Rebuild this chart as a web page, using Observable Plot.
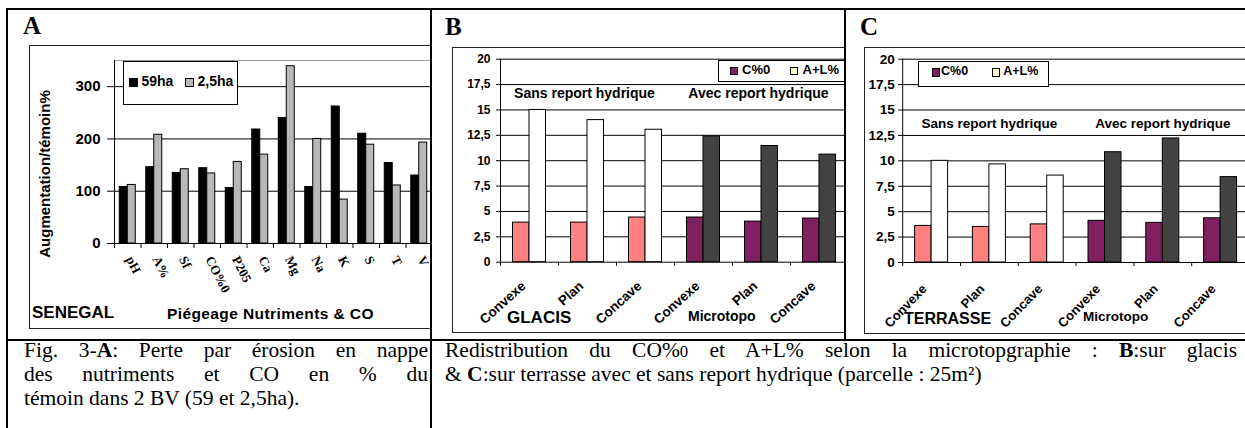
<!DOCTYPE html>
<html>
<head>
<meta charset="utf-8">
<script src="https://cdn.jsdelivr.net/npm/d3@7"></script>
<script src="https://cdn.jsdelivr.net/npm/@observablehq/plot@0.6"></script>
<style>
  html, body { margin: 0; padding: 0; background: #fff; }
  #root { position: relative; width: 1245px; height: 428px; overflow: hidden; background: #fff; }
</style>
</head>
<body>
<div id="root"></div>
<script>
// ---------------- data ----------------
const nutrients = ["pH", "A%", "Sf", "CO%0", "P205", "Ca", "Mg", "Na", "K", "S", "T", "V"];
const bv59ha   = [108, 146, 135, 144, 106, 218, 240, 108, 262, 210, 154, 130];
const bv2_5ha  = [112, 208, 142, 134, 156, 170, 339, 200, 84, 189, 111, 193];
const seriesA  = ["59ha", "2,5ha"];
const yTicksA  = [0, 100, 200, 300];

const microtopo = ["Convexe", "Plan", "Concave"];
const regimes   = ["Sans report hydrique", "Avec report hydrique"];
const seriesBC  = ["C%0", "A+L%"];
const glacisC_sans    = [3.9, 3.9, 4.4];
const glacisC_avec    = [4.4, 4.0, 4.3];
const glacisAL_sans   = [15.0, 14.0, 13.05];
const glacisAL_avec   = [12.4, 11.45, 10.6];
const terrasseC_sans  = [3.6, 3.5, 3.75];
const terrasseC_avec  = [4.1, 3.9, 4.35];
const terrasseAL_sans = [10.0, 9.65, 8.55];
const terrasseAL_avec = [10.85, 12.2, 8.4];
const yTicksBC      = [0, 2.5, 5, 7.5, 10, 12.5, 15, 17.5, 20];
const yTickLabelsBC = ["0", "2,5", "5", "7,5", "10", "12,5", "15", "17,5", "20"];

// ---------------- helpers ----------------
const SANS = "'Liberation Sans', Arial, sans-serif";
const SERIF = "'Liberation Serif', 'Times New Roman', serif";
const root = document.getElementById("root");

function box(parent, css) {
  const d = document.createElement("div");
  d.style.cssText = "position:absolute;" + css;
  parent.appendChild(d);
  return d;
}
function txt(parent, html, x, base, fs, o = {}) {
  const serif = !!o.serif;
  const top = base - (serif ? 0.8375 : 0.8465) * fs;
  const d = box(parent,
    `left:${x}px;top:${top}px;font-family:${serif ? SERIF : SANS};font-size:${fs}px;line-height:1;` +
    `font-weight:${o.bold === false ? "normal" : "bold"};white-space:nowrap;color:#000;` +
    (o.width ? `width:${o.width}px;white-space:normal;text-align:justify;text-align-last:justify;` : "") +
    (o.ls ? `letter-spacing:${o.ls}px;` : "") + (o.css || ""));
  d.innerHTML = html;
  return d;
}
function wrapper(clip) {
  return box(root, `left:0;top:0;width:1245px;height:428px;clip-path:inset(${clip});`);
}
const plotStyle = {background: "transparent", overflow: "visible", maxWidth: "none", fontFamily: SANS, color: "#000"};

// ---------------- panel A ----------------
const wrapA = wrapper("0px 815px 89px 0px");
box(wrapA, "left:29px;top:45px;width:420px;height:282px;border:1px solid #222;background:#fff;");
{
  const rows = nutrients.map((n, i) => ({cat: n, v59: bv59ha[i], v25: bv2_5ha[i]}));
  const width = 410, ml = 85, mr = 7;
  const plotW = width - ml - mr;
  const step = plotW / nutrients.length;
  const half = step / 2, bw = 8;
  const svg = Plot.plot({
    width, height: 283, marginLeft: ml, marginRight: mr, marginTop: 15, marginBottom: 85,
    x: {domain: nutrients, padding: 0, round: false, axis: null},
    y: {domain: [0, 350], axis: null},
    style: plotStyle,
    marks: [
      Plot.ruleY([350], {y: d => d, stroke: "#9a9a9a"}),
      Plot.ruleY(yTicksA.slice(1), {y: d => d, stroke: "#000"}),
      Plot.barY(rows, {x: "cat", y: "v59", fill: "#000", stroke: "#000", insetLeft: half - bw, insetRight: half}),
      Plot.barY(rows, {x: "cat", y: "v25", fill: "#b8b8b8", stroke: "#000", insetLeft: half, insetRight: half - bw}),
      Plot.ruleY([0], {y: d => d, stroke: "#000"}),
      Plot.ruleX([nutrients[0]], {x: d => d, dx: -half, stroke: "#000"}),
      Plot.ruleX(nutrients, {x: d => d, y1: () => 0, y2: () => 0, insetBottom: -5, dx: -half, stroke: "#000"}),
      Plot.ruleY(yTicksA, {y: d => d, insetLeft: -7, insetRight: plotW, stroke: "#000"}),
      Plot.text(yTicksA, {y: d => d, text: d => String(d), frameAnchor: "left", textAnchor: "end", dx: -14, fontSize: 15, fontWeight: "bold"}),
      Plot.text(rows, {x: "cat", y: () => 0, text: "cat", rotate: 63, textAnchor: "start", lineAnchor: "bottom",
        dx: -2, dy: 15.6, fontFamily: SERIF, fontWeight: "bold", fontSize: 13})
    ]
  });
  svg.style.position = "absolute";
  svg.style.left = "29px";
  svg.style.top = "45px";
  wrapA.appendChild(svg);

  // legend A
  box(wrapA, "left:123px;top:61px;width:113px;height:42px;border:1px solid #000;background:#fff;");
  box(wrapA, "left:129px;top:78px;width:7px;height:7px;border:1px solid #000;background:#000;");
  txt(wrapA, seriesA[0], 141.5, 86, 14);
  box(wrapA, "left:185px;top:78px;width:7px;height:7px;border:1px solid #000;background:#b8b8b8;");
  txt(wrapA, seriesA[1], 197.5, 86, 14);

  // axis title & annotations
  box(wrapA, `left:44.3px;top:173.5px;transform:translate(-50%,-50%) rotate(-90deg);font-family:${SANS};font-size:15px;font-weight:bold;line-height:1;white-space:nowrap;`)
    .textContent = "Augmentation/témoin%";
  txt(wrapA, "SENEGAL", 32, 318.3, 17);
  txt(wrapA, "Piégeage Nutriments &amp; CO", 167, 319, 15.5, {ls: 0.4});
}

// ---------------- panels B & C ----------------
function panelBC(cfg) {
  const rows = [];
  regimes.forEach((reg, ri) => microtopo.forEach((m, mi) => rows.push({
    key: ri + "-" + m, topo: m, regime: reg, ri,
    c: ri === 0 ? cfg.cSans[mi] : cfg.cAvec[mi],
    al: ri === 0 ? cfg.alSans[mi] : cfg.alAvec[mi]
  })));
  const keys = rows.map(d => d.key);
  const plotW = cfg.width - cfg.ml - cfg.mr;
  const step = plotW / keys.length;
  const half = step / 2, bw = 16.5;
  const sans = rows.filter(d => d.ri === 0), avec = rows.filter(d => d.ri === 1);
  const svg = Plot.plot({
    width: cfg.width, height: cfg.height,
    marginLeft: cfg.ml, marginRight: cfg.mr, marginTop: cfg.mt, marginBottom: cfg.mb,
    x: {domain: keys, padding: 0, round: false, axis: null},
    y: {domain: [0, 20], axis: null},
    style: plotStyle,
    marks: [
      Plot.ruleY(yTicksBC.slice(1), {y: d => d, stroke: "#000"}),
      Plot.barY(sans, {x: "key", y: "c", fill: "#ff8080", stroke: "#000", insetLeft: half - bw, insetRight: half}),
      Plot.barY(sans, {x: "key", y: "al", fill: "#ffffff", stroke: "#000", insetLeft: half, insetRight: half - bw}),
      Plot.barY(avec, {x: "key", y: "c", fill: "#80205f", stroke: "#000", insetLeft: half - bw, insetRight: half}),
      Plot.barY(avec, {x: "key", y: "al", fill: "#424242", stroke: "#000", insetLeft: half, insetRight: half - bw}),
      Plot.ruleY([0], {y: d => d, stroke: "#000"}),
      Plot.ruleX([keys[0]], {x: d => d, dx: -half, stroke: "#000"}),
      Plot.ruleX(keys, {x: d => d, y1: () => 0, y2: () => 0, insetBottom: -4, dx: -half, stroke: "#000"}),
      Plot.ruleY(yTicksBC, {y: d => d, insetLeft: -4, insetRight: plotW, stroke: "#000"}),
      Plot.text(yTicksBC, {y: d => d, text: (d, i) => yTickLabelsBC[i], frameAnchor: "left", textAnchor: "end",
        dx: -cfg.labelGap, fontSize: cfg.tickFs, fontWeight: "bold"}),
      Plot.text(rows, {x: "key", y: () => 0, text: "topo", rotate: cfg.rot, textAnchor: "end", lineAnchor: "bottom",
        dx: cfg.ldx, dy: cfg.ldy, fontSize: cfg.catFs, fontWeight: "bold"}),
      Plot.text(regimes, {x: (d, i) => keys[i * 3 + 1], frameAnchor: "top", lineAnchor: "bottom", text: d => d,
        dx: cfg.hdx, dy: cfg.hdy, fontSize: cfg.hFs, fontWeight: "bold"})
    ]
  });
  svg.style.position = "absolute";
  svg.style.left = cfg.left + "px";
  svg.style.top = cfg.top + "px";
  return svg;
}

// panel B
const wrapB = wrapper("0px 401px 88px 432px");
box(wrapB, "left:452px;top:47px;width:420px;height:284px;border:1px solid #222;background:#fff;");
wrapB.appendChild(panelBC({
  left: 452, top: 47, width: 404, height: 285, ml: 48, mr: 8, mt: 11.7, mb: 70.3,
  cSans: glacisC_sans, cAvec: glacisC_avec, alSans: glacisAL_sans, alAvec: glacisAL_avec,
  labelGap: 10, tickFs: 12, rot: -42, ldx: -3, ldy: 25, catFs: 13.5, hdx: -3, hdy: 38.3, hFs: 14
}));
box(wrapB, "left:718px;top:60px;width:160px;height:20px;border:1px solid #000;background:#fff;");
box(wrapB, "left:730px;top:67px;width:6px;height:6px;border:1px solid #000;background:#80205f;");
txt(wrapB, seriesBC[0], 742, 74, 13);
box(wrapB, "left:790px;top:67px;width:6px;height:6px;border:1px solid #000;background:#ffffcc;");
txt(wrapB, seriesBC[1], 802.5, 74, 13);
txt(wrapB, "GLACIS", 507, 323.3, 17);
txt(wrapB, "Microtopo", 688, 320.7, 14);

// panel C
const wrapC = wrapper("0px 0px 88px 846px");
box(wrapC, "left:864px;top:47px;width:420px;height:285px;border:1px solid #222;background:#fff;");
wrapC.appendChild(panelBC({
  left: 864.5, top: 47, width: 395, height: 285.5, ml: 37.2, mr: 11, mt: 11.7, mb: 70.5,
  cSans: terrasseC_sans, cAvec: terrasseC_avec, alSans: terrasseAL_sans, alAvec: terrasseAL_avec,
  labelGap: 8, tickFs: 13.5, rot: -46, ldx: -4, ldy: 27, catFs: 13, hdx: 0, hdy: 68.3, hFs: 13.5
}));
box(wrapC, "left:918px;top:61px;width:129px;height:24px;border:1px solid #000;background:#fff;");
box(wrapC, "left:932px;top:68px;width:6px;height:7px;border:1px solid #000;background:#80205f;");
txt(wrapC, seriesBC[0], 941, 76, 12.5);
box(wrapC, "left:992px;top:68px;width:6px;height:7px;border:1px solid #000;background:#ffffcc;");
txt(wrapC, seriesBC[1], 1003.3, 76, 12.5);
txt(wrapC, "TERRASSE", 904, 325, 16);
txt(wrapC, "Microtopo", 1083, 321.7, 13.5);

// panel letters
txt(root, "A", 23, 34, 25, {serif: true});
txt(root, "B", 445, 35, 25, {serif: true});
txt(root, "C", 860, 35, 25, {serif: true});

// table borders
box(root, "left:6px;top:8px;width:1239px;height:2px;background:#000;");
box(root, "left:6px;top:8px;width:2px;height:420px;background:#000;");
box(root, "left:430px;top:8px;width:2px;height:420px;background:#000;");
box(root, "left:844px;top:8px;width:2px;height:332px;background:#000;");
box(root, "left:6px;top:339px;width:1239px;height:2px;background:#000;");

// captions
const capFs = 21.5;
txt(root, "Fig. 3-<b>A</b>: Perte par érosion en nappe", 24, 358, capFs, {serif: true, bold: false, width: 404});
txt(root, "des nutriments et CO en % du", 24, 382, capFs, {serif: true, bold: false, width: 404});
txt(root, "témoin dans 2 BV (59 et 2,5ha).", 24, 406, capFs, {serif: true, bold: false});
txt(root, "Redistribution du CO%<span style='font-size:0.78em'>0</span> et A+L% selon la microtopgraphie : <b>B</b>:sur glacis",
  445, 358, capFs, {serif: true, bold: false, width: 792});
txt(root, "&amp; <b>C</b>:sur terrasse avec et sans report hydrique (parcelle : 25m²)", 445, 382, capFs, {serif: true, bold: false});
</script>
</body>
</html>
